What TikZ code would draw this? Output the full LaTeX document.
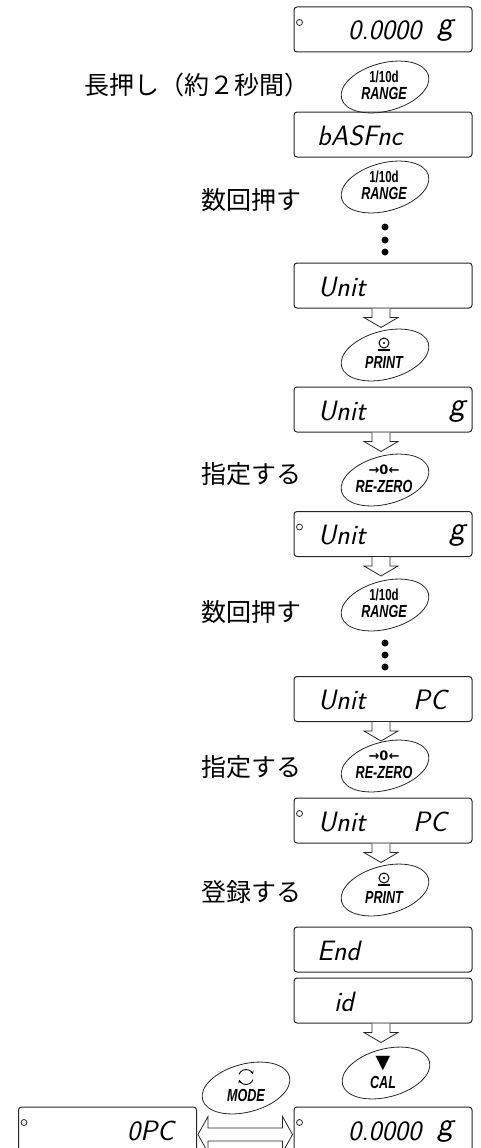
\documentclass[tikz,border=0pt]{standalone}
\usepackage{fontspec}
\usetikzlibrary{calc,shapes.geometric,arrows.meta}
\newfontfamily\jpf{Noto Sans CJK JP}
\newfontfamily\keyf{Liberation Sans}[FakeStretch=0.72]
\newfontfamily\symf{DejaVu Sans}
\tikzset{
 disp/.style={draw=black!85, line width=1pt, rounded corners=3pt, minimum width=178pt, minimum height=45pt, inner sep=0pt},
 keyshape/.style={draw=black!85, line width=0.8pt, ellipse, minimum width=90pt, minimum height=48pt, rotate=15, inner sep=0pt},
 seg/.style={font=\fontsize{28}{28}\selectfont\sffamily\itshape, inner sep=0pt, anchor=base west},
 segg/.style={font=\fontsize{34}{34}\selectfont\sffamily\itshape, inner sep=0pt, anchor=base west},
 jp/.style={font=\fontsize{25}{25}\selectfont\jpf, inner sep=0pt, anchor=east},
 keyla/.style={font=\fontsize{16}{16}\selectfont\keyf\bfseries, inner sep=0pt},
 keylb/.style={font=\fontsize{17.5}{17.5}\selectfont\keyf\bfseries\itshape, inner sep=0pt},
 harrowstyle/.style={draw=black!85, line width=0.8pt, fill=white, line join=miter},
 lamp/.style={draw=black!85, line width=0.8pt, circle, minimum size=6pt, inner sep=0pt},
 bigdot/.style={fill=black, circle, minimum size=7pt, inner sep=0pt},
}
\newcommand\harrow[1]{\draw[harrowstyle] ($(#1.south)+(-11,0)$) -- ++(0,9) -- ++(-8,0) -- ++(17,10) -- ++(17,-10) -- ++(-8,0) -- ++(0,-9);}
\newcommand\keytwo[5]{%
 \node[keyshape] (#1) at (#2,#3) {};
 \node[keyla] (#1a) at ($(#1)+(-1,-10)$) {#4};
 \node[keylb] (#1b) at ($(#1)+(-1,6)$) {#5};}
\newcommand\printicon[1]{%
 \draw[line width=1pt] ($(#1)+(-1,-12)$) circle[radius=5];
 \fill ($(#1)+(-1,-12)$) circle[radius=1.2];
 \draw[line width=1.3pt] ($(#1)+(-7,-5)$) -- ($(#1)+(5,-5)$);}
\begin{document}
\begin{tikzpicture}[x=1pt,y=-1pt]
\useasboundingbox (0,0) rectangle (481,1148);
\clip (0,0) rectangle (481,1148);

% display boxes
\node[disp] (b1) at (383,29.5) {};
\node[disp] (b2) at (383,134.5) {};
\node[disp] (b3) at (383,285.5) {};
\node[disp] (b4) at (383,409.5) {};
\node[disp] (b5) at (383,534) {};
\node[disp] (b6) at (383,699) {};
\node[disp] (b7) at (383,820.5) {};
\node[disp] (b8) at (383,949.5) {};
\node[disp] (b9) at (383,1000.5) {};
\node[disp] (bl) at (107.5,1129.5) {};
\node[disp] (br) at (383,1129.5) {};

% lamps
\node[lamp] (l1) at ($(b1.north west)+(6,16)$) {};
\node[lamp] (l5) at ($(b5.north west)+(6,16)$) {};
\node[lamp] (l7) at ($(b7.north west)+(6,16)$) {};
\node[lamp] (ll) at ($(bl.north west)+(6,16)$) {};
\node[lamp] (lr) at ($(br.north west)+(6,16)$) {};

% display texts
\node[seg] (t1) at (348,40) {0.0000};
\node[segg] (t1g) at (437,35) {g};
\node[seg] (t2) at (317,145) {bASFnc};
\node[seg] (t3) at (318,296) {Unit};
\node[seg] (t4) at (318,420) {Unit};
\node[segg] (t4g) at (449,415) {g};
\node[seg] (t5) at (318,544.5) {Unit};
\node[segg] (t5g) at (449,539.5) {g};
\node[seg] (t6) at (318,709.5) {Unit};
\node[seg] (t6p) at (413,709.5) {PC};
\node[seg] (t7) at (318,831) {Unit};
\node[seg] (t7p) at (413,831) {PC};
\node[seg] (t8) at (317,960) {End};
\node[seg] (t9) at (334,1011) {id};
\node[seg] (tl) at (127,1140) {0PC};
\node[seg] (tr) at (348,1140) {0.0000};
\node[segg] (trg) at (437,1135) {g};

% dots
\node[bigdot] (d1) at (385,227) {};
\node[bigdot] (d2) at (385,240) {};
\node[bigdot] (d3) at (385,252) {};
\node[bigdot] (d4) at (385,643) {};
\node[bigdot] (d5) at (385,655) {};
\node[bigdot] (d6) at (385,667) {};

% hollow arrows
\harrow{b3}
\harrow{b4}
\harrow{b5}
\harrow{b6}
\harrow{b7}
\harrow{b9}

% keys
\keytwo{k1}{385}{87}{1/10d}{RANGE}
\keytwo{k2}{385}{187}{1/10d}{RANGE}
\node[keyshape] (k3) at (385,355) {};
\printicon{k3}
\node[keylb] (k3b) at ($(k3)+(-1,7)$) {PRINT};
\keytwo{k4}{385}{480}{\symf\fontsize{13}{13}\selectfont\bfseries →0←}{RE-ZERO}
\keytwo{k5}{385}{605}{1/10d}{RANGE}
\keytwo{k6}{385}{766}{\symf\fontsize{13}{13}\selectfont\bfseries →0←}{RE-ZERO}
\node[keyshape] (k7) at (385,890) {};
\printicon{k7}
\node[keylb] (k7b) at ($(k7)+(-1,7)$) {PRINT};
\node[keyshape] (k8) at (386,1073) {};
\node[inner sep=0pt, font=\fontsize{19}{19}\selectfont\symf] (k8a) at ($(k8)+(-3,-9)$) {▼};
\node[keylb] (k8b) at ($(k8)+(-3,9)$) {CAL};
\node[keyshape] (km) at (246,1088) {};
\node[keylb] (kmb) at ($(km)+(0,7)$) {MODE};
\draw[line width=0.9pt, -{Stealth[length=3.5pt,width=3.5pt]}] ($(km)+(0,-11)$) ++(20:7.5) arc[start angle=20, end angle=160, radius=7.5];
\draw[line width=0.9pt, -{Stealth[length=3.5pt,width=3.5pt]}] ($(km)+(0,-11)$) ++(200:7.5) arc[start angle=200, end angle=340, radius=7.5];

% double hollow arrow
\coordinate (dl) at ($(bl.east)+(1,5)$);
\coordinate (dr) at ($(br.west)+(-1,5)$);
\draw[harrowstyle] (dl) -- ($(dl)+(10,-18)$) -- ($(dl)+(10,-6.5)$) -- ($(dr)+(-10,-6.5)$) -- ($(dr)+(-10,-18)$) -- (dr) -- ($(dr)+(-10,18)$) -- ($(dr)+(-10,6.5)$) -- ($(dl)+(10,6.5)$) -- ($(dl)+(10,18)$) -- cycle;

% Japanese labels
\node[jp] (j1) at (310,85) {長押し（約２秒間）};
\node[jp] (j2) at (302,200) {数回押す};
\node[jp] (j3) at (302,474) {指定する};
\node[jp] (j4) at (302,612) {数回押す};
\node[jp] (j5) at (302,767) {指定する};
\node[jp] (j6) at (302,892) {登録する};
\end{tikzpicture}
\end{document}
